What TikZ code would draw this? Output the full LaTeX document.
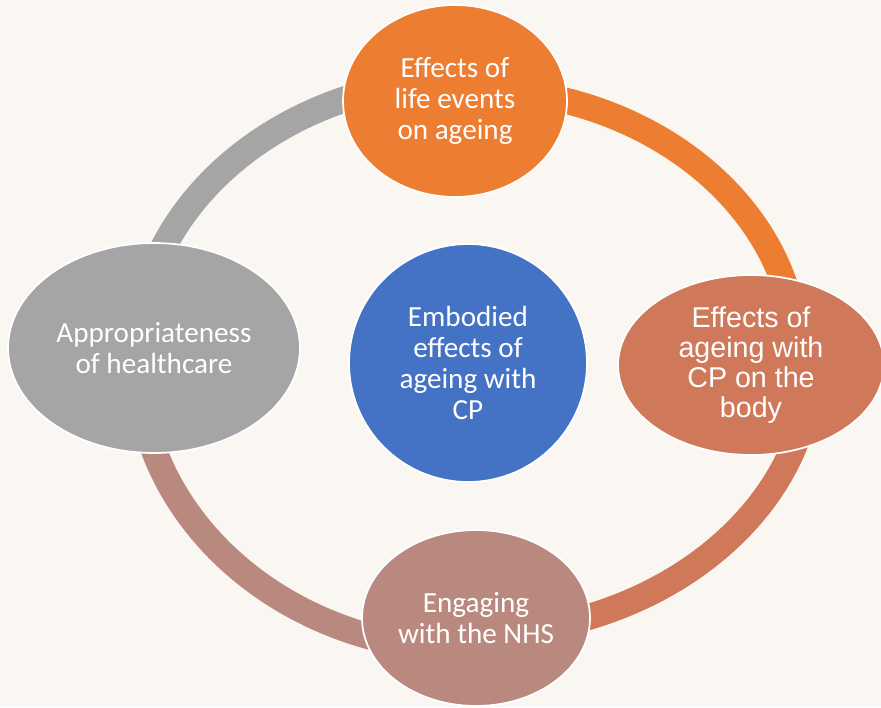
\documentclass[tikz,border=0pt]{standalone}
\usepackage{fontspec}
\setmainfont{Carlito}
\newfontfamily\arialfont{Liberation Sans}
\usetikzlibrary{shapes.geometric}

\definecolor{paper}{HTML}{FAF7F3}
\definecolor{lifeorange}{HTML}{ED7D31}
\definecolor{bodysalmon}{HTML}{D0795A}
\definecolor{caregrey}{HTML}{A5A5A5}
\definecolor{nhsmauve}{HTML}{B9897F}
\definecolor{coreblue}{HTML}{4472C4}

\begin{document}
\begin{tikzpicture}
[
    x=0.02cm, y=-0.02cm,
    ring/.style={line width=0.52cm},
    topic/.style={ellipse, draw=white, line width=1pt, inner sep=0pt,
        text=white, align=center, font=\fontsize{16.6}{17.6}\selectfont},
]
\fill[paper] (0,0) rectangle (881,707);
\useasboundingbox (0,0) rectangle (881,707);

\coordinate (hub) at (470,358);
\draw[ring, caregrey]   (hub) ++(-180:334 and 279) arc[start angle=-180, end angle=-90, x radius=334, y radius=279];
\draw[ring, lifeorange] (hub) ++(-90:327 and 269)  arc[start angle=-90, end angle=0, x radius=327, y radius=269];
\draw[ring, bodysalmon] (hub) ++(0:342 and 276)    arc[start angle=0, end angle=90, x radius=342, y radius=276];
\draw[ring, nhsmauve]   (hub) ++(90:333 and 292)   arc[start angle=90, end angle=180, x radius=333, y radius=292];

\node [topic, fill=lifeorange, minimum width=4.48cm, minimum height=3.84cm] (life) at (455,101)
{Effects of\\life events\\on ageing};
\node [topic, fill=bodysalmon, minimum width=5.32cm, minimum height=3.6cm,
    font=\arialfont\fontsize{16.3}{17.2}\selectfont] (body) at (751,365)
{Effects of\\ageing with\\CP on the\\body};
\node [topic, fill=nhsmauve, minimum width=4.56cm, minimum height=3.52cm] (nhs) at (476,618)
{Engaging\\with the NHS};
\node [topic, fill=caregrey, minimum width=5.84cm, minimum height=4.2cm] (care) at (154,348)
{Appropriateness\\of healthcare};
\node [topic, circle, fill=coreblue, minimum size=4.76cm] (core) at (468,363)
{Embodied\\effects of\\ageing with\\CP};
\end{tikzpicture}
\end{document}
